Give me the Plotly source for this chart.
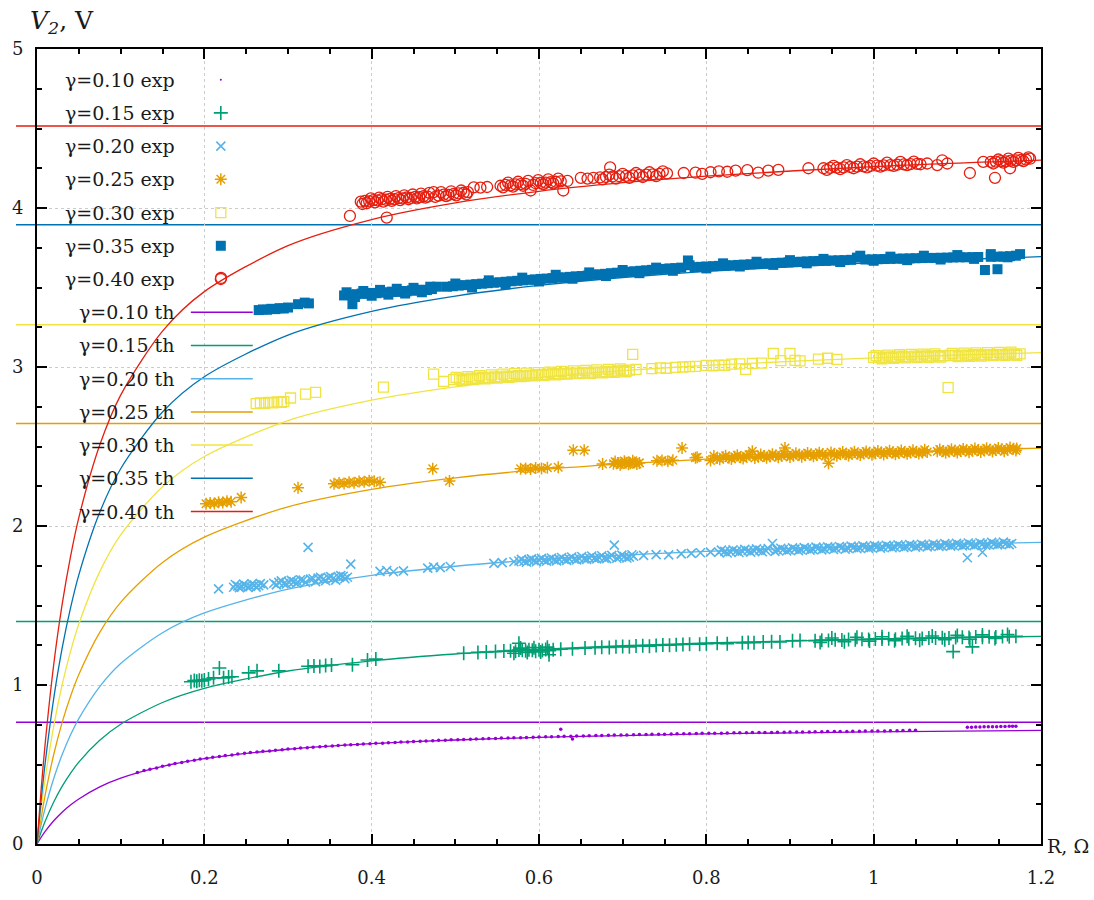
import plotly.graph_objects as go

# ---------------- data ----------------
gammas = ["0.10", "0.15", "0.20", "0.25", "0.30", "0.35", "0.40"]
colors = ["#9400d3", "#009e73", "#56b4e9", "#e69f00", "#f0e442", "#0072b2", "#e51e10"]
asymptotes = [0.765, 1.400, None, 2.644, 3.266, 3.894, 4.516]

theory_R = [0, 0.005, 0.01, 0.02, 0.03, 0.04, 0.05, 0.075, 0.1, 0.15, 0.2,
            0.3, 0.4, 0.5, 0.6, 0.7, 0.8, 1.0, 1.2]
th_010 = [0, 0.0425, 0.0805, 0.146, 0.200, 0.245, 0.283, 0.359, 0.414, 0.488, 0.537,
          0.596, 0.631, 0.654, 0.670, 0.682, 0.692, 0.705, 0.714]
th_015 = [0, 0.077, 0.146, 0.264, 0.362, 0.444, 0.515, 0.652, 0.753, 0.890, 0.979,
          1.088, 1.152, 1.195, 1.224, 1.247, 1.264, 1.289, 1.306]
th_020 = [0, 0.122, 0.230, 0.412, 0.561, 0.685, 0.789, 0.990, 1.135, 1.329, 1.453,
          1.603, 1.690, 1.747, 1.788, 1.817, 1.841, 1.874, 1.897]
th_025 = [0, 0.167, 0.315, 0.563, 0.763, 0.928, 1.066, 1.331, 1.520, 1.771, 1.930,
          2.121, 2.231, 2.303, 2.354, 2.391, 2.420, 2.462, 2.490]
th_030 = [0, 0.224, 0.419, 0.742, 1.000, 1.210, 1.384, 1.713, 1.944, 2.247, 2.437,
          2.663, 2.791, 2.875, 2.934, 2.977, 3.010, 3.058, 3.091]
th_035 = [0, 0.278, 0.519, 0.916, 1.230, 1.483, 1.693, 2.086, 2.360, 2.717, 2.939,
          3.201, 3.350, 3.446, 3.513, 3.563, 3.601, 3.656, 3.694]
th_040 = [0, 0.347, 0.645, 1.129, 1.505, 1.806, 2.053, 2.509, 2.823, 3.226, 3.474,
          3.763, 3.927, 4.032, 4.105, 4.159, 4.201, 4.260, 4.301]

# ---- gamma = 0.10 (dots)
exp_R_010 = [0.120, 0.135, 0.150, 0.165, 0.180, 0.195, 0.210, 0.225, 0.240, 0.255,
             0.270, 0.285, 0.300, 0.315, 0.330, 0.345, 0.360, 0.375, 0.390, 0.405,
             0.420, 0.435, 0.450, 0.465, 0.480, 0.495, 0.510, 0.525, 0.540, 0.555,
             0.570, 0.585, 0.600, 0.615, 0.630, 0.645, 0.660, 0.675, 0.690, 0.705,
             0.720, 0.735, 0.750, 0.765, 0.780, 0.795, 0.810, 0.825, 0.840, 0.855,
             0.870, 0.885, 0.900, 0.915, 0.930, 0.945, 0.960, 0.975, 0.990, 1.005,
             1.020, 1.035, 1.050, 1.112, 1.122, 1.132, 1.142, 1.152, 1.162, 1.170,
             0.626, 0.640]
exp_V_010 = [0.450, 0.470, 0.489, 0.506, 0.521, 0.534, 0.546, 0.556, 0.566, 0.575,
             0.583, 0.590, 0.597, 0.603, 0.609, 0.615, 0.620, 0.625, 0.629, 0.633,
             0.637, 0.641, 0.645, 0.648, 0.652, 0.655, 0.658, 0.661, 0.664, 0.666,
             0.668, 0.670, 0.673, 0.675, 0.677, 0.679, 0.681, 0.683, 0.685, 0.686,
             0.688, 0.690, 0.691, 0.693, 0.694, 0.696, 0.697, 0.698, 0.699, 0.701,
             0.702, 0.703, 0.704, 0.705, 0.706, 0.707, 0.708, 0.709, 0.710, 0.711,
             0.712, 0.714, 0.716, 0.735, 0.736, 0.737, 0.738, 0.739, 0.740, 0.741,
             0.722, 0.660]
exp_R_010b = [0.128, 0.143, 0.158, 0.173, 0.188, 0.203, 0.218, 0.233, 0.248, 0.263,
              0.278, 0.293, 0.308, 0.323, 0.338, 0.353, 0.368, 0.383, 0.398, 0.413,
              0.428, 0.443, 0.458, 0.473, 0.488, 0.503, 0.518, 0.533, 0.548, 0.563,
              0.578, 0.593, 0.608, 0.623, 0.638, 0.653, 0.668, 0.683, 0.698, 0.713,
              0.728, 0.743, 0.758, 0.773, 0.788, 0.803, 0.818, 0.833, 0.848, 0.863,
              0.878, 0.893, 0.908, 0.923, 0.938, 0.953, 0.968, 0.983, 0.998, 1.013,
              1.028, 1.043, 1.117, 1.127, 1.137, 1.147, 1.157, 1.166]
exp_V_010b = [0.462, 0.478, 0.497, 0.512, 0.526, 0.539, 0.550, 0.560, 0.570, 0.578,
              0.585, 0.593, 0.599, 0.605, 0.611, 0.617, 0.622, 0.626, 0.630, 0.634,
              0.638, 0.642, 0.646, 0.649, 0.653, 0.656, 0.659, 0.662, 0.664, 0.667,
              0.669, 0.671, 0.674, 0.676, 0.678, 0.680, 0.682, 0.684, 0.685, 0.687,
              0.689, 0.690, 0.692, 0.693, 0.695, 0.696, 0.697, 0.699, 0.700, 0.701,
              0.702, 0.703, 0.704, 0.705, 0.706, 0.707, 0.708, 0.709, 0.710, 0.711,
              0.713, 0.715, 0.735, 0.736, 0.737, 0.738, 0.739, 0.740]

# ---- gamma = 0.15 (+)
exp_R_015 = [0.184, 0.188, 0.191, 0.194, 0.197, 0.200, 0.205, 0.211, 0.218, 0.223,
             0.229, 0.233, 0.253, 0.263, 0.289, 0.324, 0.331, 0.338, 0.345, 0.352,
             0.377, 0.395, 0.405, 0.510, 0.527, 0.537, 0.548, 0.558, 0.566, 0.572,
             0.576, 0.580, 0.584, 0.588, 0.592, 0.596, 0.600, 0.604, 0.608, 0.612,
             0.617, 0.626, 0.640, 0.655, 0.667, 0.675, 0.684, 0.692, 0.700, 0.708,
             0.716, 0.724, 0.732, 0.740, 0.748, 0.756, 0.764, 0.772, 0.780, 0.792,
             0.800, 0.813, 0.825, 0.843, 0.850, 0.857, 0.868, 0.878, 0.888, 0.903,
             0.912, 0.930, 0.938, 0.946, 0.954, 0.962, 0.970, 0.978, 0.986, 0.994,
             1.002, 1.010, 1.018, 1.026, 1.034, 1.042, 1.050, 1.058, 1.066, 1.074,
             1.082, 1.090, 1.098, 1.106, 1.114, 1.122, 1.130, 1.138, 1.146, 1.154,
             1.162, 1.170, 1.095, 1.118, 0.576, 0.612]
exp_V_015 = [1.020, 1.028, 1.024, 1.030, 1.026, 1.032, 1.038, 1.045, 1.107, 1.045,
             1.050, 1.052, 1.076, 1.089, 1.089, 1.118, 1.120, 1.116, 1.122, 1.126,
             1.128, 1.157, 1.163, 1.200, 1.205, 1.208, 1.210, 1.214, 1.216, 1.212,
             1.220, 1.218, 1.215, 1.222, 1.219, 1.213, 1.221, 1.217, 1.224, 1.216,
             1.222, 1.225, 1.228, 1.232, 1.234, 1.237, 1.236, 1.240, 1.242, 1.240,
             1.245, 1.247, 1.244, 1.249, 1.251, 1.250, 1.253, 1.255, 1.257, 1.256,
             1.260, 1.262, 1.260, 1.265, 1.268, 1.266, 1.270, 1.272, 1.270, 1.278,
             1.280, 1.279, 1.282, 1.280, 1.284, 1.283, 1.286, 1.285, 1.288, 1.286,
             1.290, 1.289, 1.291, 1.288, 1.293, 1.291, 1.294, 1.293, 1.296, 1.295,
             1.297, 1.296, 1.298, 1.300, 1.299, 1.302, 1.300, 1.303, 1.302, 1.305,
             1.304, 1.306, 1.210, 1.240, 1.263, 1.190]
exp_R_015b = [0.570, 0.578, 0.586, 0.594, 0.602, 0.610, 0.936, 0.950, 0.965, 0.980,
              0.995, 1.010, 1.025, 1.040, 1.055, 1.070, 1.085, 1.100, 1.115, 1.130,
              1.145, 1.160]
exp_V_015b = [1.200, 1.232, 1.205, 1.235, 1.208, 1.238, 1.268, 1.296, 1.272, 1.300,
              1.276, 1.303, 1.279, 1.306, 1.282, 1.308, 1.285, 1.312, 1.288, 1.315,
              1.292, 1.318]

# ---- gamma = 0.20 (x)
exp_R_020 = [0.217, 0.235, 0.240, 0.245, 0.250, 0.255, 0.260, 0.265, 0.271, 0.283,
             0.289, 0.295, 0.301, 0.307, 0.312, 0.318, 0.324, 0.330, 0.336, 0.342,
             0.348, 0.354, 0.360, 0.366, 0.371, 0.375, 0.410, 0.418, 0.426, 0.438,
             0.467, 0.474, 0.482, 0.494, 0.546, 0.556, 0.570, 0.576, 0.582, 0.588,
             0.594, 0.600, 0.606, 0.612, 0.618, 0.624, 0.630, 0.636, 0.642, 0.648,
             0.654, 0.660, 0.666, 0.672, 0.678, 0.684, 0.690, 0.696, 0.702, 0.708,
             0.713, 0.725, 0.740, 0.755, 0.770, 0.782, 0.793, 0.805, 0.815, 0.822,
             0.829, 0.836, 0.843, 0.850, 0.857, 0.864, 0.871, 0.879, 0.885, 0.892,
             0.899, 0.906, 0.913, 0.920, 0.927, 0.934, 0.941, 0.948, 0.955, 0.962,
             0.969, 0.976, 0.983, 0.990, 0.997, 1.004, 1.011, 1.018, 1.025, 1.032,
             1.039, 1.046, 1.053, 1.060, 1.067, 1.074, 1.081, 1.088, 1.095, 1.102,
             1.109, 1.116, 1.123, 1.130, 1.137, 1.144, 1.151, 1.158, 1.165, 1.112,
             1.130]
exp_V_020 = [1.605, 1.615, 1.622, 1.618, 1.625, 1.620, 1.628, 1.624, 1.630, 1.640,
             1.645, 1.638, 1.648, 1.650, 1.646, 1.660, 1.866, 1.668, 1.672, 1.665,
             1.676, 1.670, 1.680, 1.684, 1.678, 1.760, 1.715, 1.720, 1.712, 1.718,
             1.735, 1.742, 1.738, 1.745, 1.765, 1.770, 1.775, 1.780, 1.778, 1.785,
             1.782, 1.788, 1.784, 1.790, 1.787, 1.792, 1.789, 1.795, 1.791, 1.797,
             1.793, 1.800, 1.796, 1.802, 1.798, 1.805, 1.880, 1.803, 1.808, 1.804,
             1.810, 1.815, 1.820, 1.818, 1.825, 1.828, 1.832, 1.836, 1.835, 1.840,
             1.838, 1.843, 1.841, 1.846, 1.844, 1.848, 1.846, 1.890, 1.850, 1.852,
             1.850, 1.855, 1.853, 1.857, 1.855, 1.860, 1.858, 1.862, 1.860, 1.864,
             1.862, 1.866, 1.864, 1.868, 1.866, 1.870, 1.868, 1.872, 1.870, 1.874,
             1.872, 1.876, 1.874, 1.878, 1.876, 1.880, 1.877, 1.881, 1.879, 1.883,
             1.880, 1.884, 1.882, 1.886, 1.884, 1.888, 1.886, 1.889, 1.890, 1.800,
             1.835]
exp_R_020b = [0.237, 0.242, 0.247, 0.252, 0.257, 0.262, 0.267, 0.286, 0.292, 0.298,
              0.304, 0.310, 0.315, 0.321, 0.327, 0.333, 0.339, 0.345, 0.351, 0.357,
              0.363, 0.368,
              0.579, 0.585, 0.591, 0.597, 0.603, 0.609, 0.615, 0.621, 0.627, 0.633,
              0.639, 0.645, 0.651, 0.657, 0.663, 0.669, 0.675, 0.681, 0.687, 0.693,
              0.699, 0.705, 0.711,
              0.818, 0.825, 0.832, 0.839, 0.846, 0.853, 0.860, 0.867, 0.874, 0.882,
              0.889, 0.896, 0.903, 0.910, 0.917, 0.924, 0.931, 0.938, 0.945, 0.952,
              0.959, 0.966, 0.973, 0.980, 0.987, 0.994, 1.001, 1.008, 1.015, 1.022,
              1.029, 1.036, 1.043, 1.050, 1.057, 1.064, 1.071, 1.078, 1.085, 1.092,
              1.099, 1.106, 1.113, 1.120, 1.127, 1.134, 1.141, 1.148, 1.155, 1.162]
exp_V_020b = [1.632, 1.612, 1.634, 1.614, 1.636, 1.616, 1.638, 1.630, 1.655, 1.634,
              1.658, 1.640, 1.662, 1.645, 1.666, 1.650, 1.678, 1.656, 1.682, 1.660,
              1.688, 1.668,
              1.790, 1.772, 1.793, 1.775, 1.796, 1.778, 1.799, 1.781, 1.802, 1.784,
              1.805, 1.787, 1.808, 1.790, 1.811, 1.793, 1.813, 1.795, 1.815, 1.797,
              1.817, 1.799, 1.819,
              1.848, 1.830, 1.850, 1.833, 1.853, 1.836, 1.856, 1.838, 1.858, 1.840,
              1.860, 1.843, 1.862, 1.845, 1.864, 1.848, 1.867, 1.850, 1.869, 1.852,
              1.871, 1.854, 1.873, 1.857, 1.875, 1.859, 1.877, 1.861, 1.879, 1.863,
              1.881, 1.865, 1.883, 1.867, 1.885, 1.869, 1.887, 1.871, 1.889, 1.873,
              1.891, 1.875, 1.893, 1.877, 1.895, 1.879, 1.897, 1.881, 1.899, 1.883]

# ---- gamma = 0.25 (asterisk)
exp_R_025 = [0.202, 0.207, 0.212, 0.217, 0.222, 0.227, 0.232, 0.244, 0.312, 0.355,
             0.361, 0.367, 0.373, 0.379, 0.385, 0.391, 0.397, 0.403, 0.410, 0.473,
             0.493, 0.578, 0.584, 0.590, 0.596, 0.603, 0.610, 0.623, 0.641, 0.654,
             0.676, 0.689, 0.694, 0.699, 0.704, 0.709, 0.714, 0.720, 0.741, 0.747,
             0.754, 0.760, 0.771, 0.787, 0.789, 0.805, 0.813, 0.820, 0.827, 0.834,
             0.841, 0.848, 0.855, 0.862, 0.869, 0.876, 0.883, 0.890, 0.894, 0.897,
             0.904, 0.911, 0.918, 0.925, 0.932, 0.939, 0.946, 0.953, 0.960, 0.967,
             0.974, 0.981, 0.988, 0.995, 1.002, 1.009, 1.016, 1.023, 1.030, 1.037,
             1.044, 1.051, 1.058, 1.064, 1.076, 1.083, 1.090, 1.097, 1.104, 1.111,
             1.118, 1.125, 1.132, 1.139, 1.146, 1.153, 1.160, 1.167, 1.171]
exp_V_025 = [2.140, 2.145, 2.142, 2.150, 2.148, 2.155, 2.152, 2.180, 2.240, 2.265,
             2.270, 2.268, 2.275, 2.272, 2.280, 2.278, 2.285, 2.282, 2.275, 2.360,
             2.283, 2.360, 2.362, 2.358, 2.365, 2.362, 2.366, 2.370, 2.476, 2.476,
             2.390, 2.392, 2.396, 2.394, 2.398, 2.395, 2.399, 2.397, 2.410, 2.412,
             2.408, 2.414, 2.490, 2.430, 2.432, 2.412, 2.428, 2.432, 2.430, 2.435,
             2.433, 2.438, 2.470, 2.436, 2.441, 2.439, 2.444, 2.442, 2.490, 2.446,
             2.444, 2.448, 2.446, 2.450, 2.448, 2.452, 2.395, 2.450, 2.454, 2.452,
             2.456, 2.454, 2.458, 2.460, 2.458, 2.462, 2.460, 2.463, 2.461, 2.464,
             2.462, 2.465, 2.463, 2.466, 2.470, 2.472, 2.470, 2.474, 2.472, 2.476,
             2.474, 2.478, 2.476, 2.480, 2.478, 2.482, 2.480, 2.486, 2.488]
exp_R_025b = [0.691, 0.697, 0.702, 0.707, 0.712, 0.717, 0.809, 0.816, 0.823, 0.830,
              0.837, 0.844, 0.851, 0.858, 0.865, 0.872, 0.879, 0.886, 0.893, 0.900,
              0.907, 0.914, 0.921, 0.928, 0.935, 0.942, 0.949, 0.956, 0.963, 0.970,
              0.977, 0.984, 0.991, 0.998, 1.005, 1.012, 1.019, 1.026, 1.033, 1.040,
              1.047, 1.054, 1.061, 1.079, 1.086, 1.093, 1.100, 1.107, 1.114, 1.121,
              1.128, 1.135, 1.142, 1.149, 1.156, 1.163, 1.170]
exp_V_025b = [2.405, 2.385, 2.408, 2.388, 2.410, 2.390, 2.440, 2.420, 2.442, 2.422,
              2.445, 2.425, 2.448, 2.428, 2.450, 2.430, 2.452, 2.432, 2.455, 2.434,
              2.457, 2.436, 2.459, 2.438, 2.461, 2.440, 2.463, 2.442, 2.465, 2.444,
              2.467, 2.446, 2.469, 2.448, 2.471, 2.450, 2.473, 2.452, 2.475, 2.454,
              2.477, 2.456, 2.479, 2.481, 2.460, 2.483, 2.462, 2.485, 2.464, 2.487,
              2.466, 2.489, 2.468, 2.491, 2.470, 2.493, 2.475]

# ---- gamma = 0.30 (open square)
exp_R_030 = [0.262, 0.267, 0.272, 0.277, 0.282, 0.287, 0.292, 0.295, 0.303, 0.321,
             0.333, 0.414, 0.474, 0.486, 0.498, 0.505, 0.512, 0.519, 0.526, 0.533,
             0.540, 0.547, 0.554, 0.561, 0.568, 0.575, 0.582, 0.589, 0.596, 0.603,
             0.610, 0.617, 0.624, 0.631, 0.638, 0.645, 0.652, 0.659, 0.666, 0.673,
             0.680, 0.687, 0.694, 0.701, 0.708, 0.712, 0.716, 0.735, 0.745, 0.752,
             0.763, 0.772, 0.780, 0.787, 0.800, 0.808, 0.815, 0.822, 0.830, 0.840,
             0.847, 0.855, 0.866, 0.880, 0.889, 0.900, 0.906, 0.912, 0.934, 0.945,
             0.956, 1.000, 1.007, 1.014, 1.021, 1.028, 1.035, 1.042, 1.049, 1.056,
             1.063, 1.070, 1.077, 1.084, 1.089, 1.091, 1.098, 1.105, 1.112, 1.119,
             1.126, 1.133, 1.140, 1.147, 1.154, 1.161, 1.168, 1.175]
exp_V_030 = [2.770, 2.775, 2.772, 2.778, 2.775, 2.780, 2.777, 2.782, 2.805, 2.830,
             2.840, 2.874, 2.955, 2.910, 2.920, 2.925, 2.922, 2.930, 2.928, 2.935,
             2.932, 2.938, 2.936, 2.942, 2.940, 2.945, 2.943, 2.948, 2.950, 2.952,
             2.955, 2.958, 2.956, 2.960, 2.962, 2.960, 2.965, 2.963, 2.968, 2.966,
             2.970, 2.972, 2.975, 2.978, 2.980, 3.080, 2.985, 2.990, 2.995, 2.992,
             2.998, 3.000, 3.002, 3.004, 3.010, 3.008, 3.012, 3.010, 3.018, 3.020,
             2.985, 3.022, 3.025, 3.085, 3.040, 3.085, 3.042, 3.038, 3.050, 3.055,
             3.048, 3.060, 3.062, 3.060, 3.064, 3.062, 3.066, 3.064, 3.068, 3.066,
             3.070, 3.068, 3.072, 3.070, 2.870, 3.073, 3.071, 3.075, 3.073, 3.077,
             3.075, 3.078, 3.076, 3.080, 3.078, 3.082, 3.080, 3.083]
exp_R_030b = [0.501, 0.508, 0.515, 0.522, 0.529, 0.536, 0.543, 0.550, 0.557, 0.564,
              0.571, 0.578, 0.585, 0.592, 0.599, 0.606, 0.613, 0.620, 0.627, 0.634,
              0.641, 0.648, 0.655, 0.662, 0.669, 0.676, 0.683, 0.690, 0.697, 0.704,
              1.003, 1.010, 1.017, 1.024, 1.031, 1.038, 1.045, 1.052, 1.059, 1.066,
              1.073, 1.080, 1.094, 1.101, 1.108, 1.115, 1.122, 1.129, 1.136, 1.143,
              1.150, 1.157, 1.164, 1.171]
exp_V_030b = [2.935, 2.915, 2.940, 2.920, 2.945, 2.925, 2.950, 2.930, 2.955, 2.935,
              2.960, 2.940, 2.962, 2.945, 2.965, 2.948, 2.968, 2.950, 2.972, 2.955,
              2.975, 2.958, 2.978, 2.960, 2.982, 2.963, 2.985, 2.966, 2.988, 2.970,
              3.072, 3.052, 3.075, 3.055, 3.077, 3.057, 3.079, 3.059, 3.081, 3.061,
              3.083, 3.063, 3.085, 3.065, 3.087, 3.067, 3.089, 3.069, 3.090, 3.071,
              3.092, 3.072, 3.094, 3.074]

# ---- gamma = 0.35 (filled square)
exp_R_035 = [0.265, 0.270, 0.275, 0.280, 0.285, 0.290, 0.295, 0.300, 0.312, 0.320,
             0.325, 0.367, 0.372, 0.377, 0.382, 0.388, 0.394, 0.400, 0.406, 0.412,
             0.418, 0.424, 0.430, 0.436, 0.442, 0.448, 0.454, 0.460, 0.466, 0.472,
             0.478, 0.490, 0.497, 0.504, 0.511, 0.518, 0.525, 0.532, 0.539, 0.546,
             0.553, 0.560, 0.567, 0.574, 0.581, 0.588, 0.595, 0.602, 0.609, 0.616,
             0.623, 0.630, 0.637, 0.644, 0.651, 0.658, 0.665, 0.672, 0.679, 0.686,
             0.693, 0.700, 0.707, 0.714, 0.721, 0.728, 0.735, 0.742, 0.749, 0.756,
             0.763, 0.770, 0.778, 0.786, 0.793, 0.800, 0.808, 0.815, 0.823, 0.830,
             0.838, 0.845, 0.853, 0.860, 0.868, 0.875, 0.883, 0.890, 0.898, 0.905,
             0.913, 0.920, 0.928, 0.935, 0.943, 0.950, 0.958, 0.965, 0.973, 0.984,
             0.990, 0.998, 1.005, 1.013, 1.020, 1.028, 1.035, 1.043, 1.050, 1.058,
             1.065, 1.073, 1.080, 1.088, 1.095, 1.103, 1.110, 1.118, 1.125, 1.133,
             1.140, 1.148, 1.148, 1.155, 1.163, 1.170, 1.175]
exp_V_035 = [3.358, 3.362, 3.360, 3.366, 3.364, 3.370, 3.368, 3.374, 3.395, 3.405,
             3.400, 3.450, 3.455, 3.395, 3.458, 3.462, 3.460, 3.466, 3.464, 3.470,
             3.468, 3.474, 3.472, 3.478, 3.476, 3.482, 3.480, 3.486, 3.484, 3.490,
             3.505, 3.505, 3.508, 3.512, 3.515, 3.518, 3.521, 3.524, 3.527, 3.530,
             3.533, 3.536, 3.539, 3.542, 3.545, 3.548, 3.551, 3.554, 3.556, 3.559,
             3.562, 3.564, 3.567, 3.570, 3.572, 3.575, 3.580, 3.583, 3.586, 3.590,
             3.593, 3.596, 3.599, 3.602, 3.605, 3.608, 3.611, 3.614, 3.617, 3.620,
             3.622, 3.625, 3.670, 3.628, 3.630, 3.632, 3.634, 3.636, 3.638, 3.640,
             3.642, 3.644, 3.646, 3.648, 3.650, 3.652, 3.654, 3.656, 3.658, 3.660,
             3.662, 3.664, 3.666, 3.667, 3.668, 3.670, 3.671, 3.672, 3.674, 3.700,
             3.676, 3.677, 3.678, 3.679, 3.680, 3.681, 3.682, 3.683, 3.684, 3.685,
             3.686, 3.686, 3.687, 3.688, 3.689, 3.690, 3.690, 3.691, 3.692, 3.610,
             3.693, 3.615, 3.694, 3.695, 3.697, 3.700, 3.710]
exp_R_035b = [0.370, 0.380, 0.390, 0.400, 0.410, 0.420, 0.430, 0.440, 0.450, 0.460,
              0.470, 0.500, 0.520, 0.540, 0.560, 0.580, 0.600, 0.620, 0.640, 0.660,
              0.680, 0.700, 0.720, 0.740, 0.760, 0.780, 0.800, 0.820, 0.840, 0.860,
              0.880, 0.900, 0.920, 0.940, 0.960, 0.980, 1.000, 1.020, 1.040, 1.060,
              1.080, 1.100, 1.120, 1.140, 1.160]
exp_V_035b = [3.470, 3.440, 3.478, 3.448, 3.485, 3.455, 3.492, 3.462, 3.498, 3.470,
              3.505, 3.525, 3.500, 3.545, 3.520, 3.562, 3.538, 3.580, 3.555, 3.595,
              3.572, 3.610, 3.590, 3.625, 3.605, 3.640, 3.620, 3.652, 3.632, 3.662,
              3.642, 3.672, 3.652, 3.680, 3.660, 3.688, 3.668, 3.694, 3.672, 3.700,
              3.676, 3.704, 3.680, 3.710, 3.690]

# ---- gamma = 0.40 (open circle)
exp_R_040 = [0.220, 0.374, 0.418, 0.387, 0.392, 0.397, 0.402, 0.407, 0.412, 0.417,
             0.422, 0.427, 0.432, 0.437, 0.442, 0.447, 0.452, 0.457, 0.462, 0.467,
             0.474, 0.480, 0.486, 0.492, 0.498, 0.504, 0.510, 0.515, 0.522, 0.530,
             0.538, 0.554, 0.560, 0.566, 0.572, 0.578, 0.584, 0.590, 0.596, 0.602,
             0.608, 0.614, 0.620, 0.626, 0.629, 0.634, 0.650, 0.658, 0.665, 0.673,
             0.680, 0.685, 0.688, 0.696, 0.704, 0.712, 0.720, 0.728, 0.736, 0.744,
             0.753, 0.773, 0.787, 0.795, 0.805, 0.815, 0.825, 0.835, 0.849, 0.862,
             0.874, 0.886, 0.922, 0.940, 0.948, 0.956, 0.964, 0.972, 0.980, 0.988,
             0.996, 1.004, 1.012, 1.020, 1.028, 1.036, 1.044, 1.052, 1.064, 1.076,
             1.082, 1.088, 1.115, 1.131, 1.145, 1.163, 1.140, 1.146, 1.152, 1.158,
             1.164, 1.170, 1.176, 1.182, 1.187]
exp_V_040 = [3.560, 3.950, 3.940, 4.040, 4.045, 4.042, 4.050, 4.048, 4.055, 4.052,
             4.058, 4.056, 4.062, 4.060, 4.066, 4.064, 4.070, 4.068, 4.074, 4.072,
             4.100, 4.078, 4.084, 4.082, 4.088, 4.092, 4.096, 4.100, 4.130, 4.128,
             4.132, 4.140, 4.145, 4.142, 4.148, 4.150, 4.152, 4.110, 4.156, 4.158,
             4.160, 4.162, 4.165, 4.168, 4.110, 4.170, 4.190, 4.185, 4.190, 4.192,
             4.195, 4.255, 4.198, 4.200, 4.202, 4.205, 4.208, 4.210, 4.212, 4.215,
             4.218, 4.220, 4.222, 4.215, 4.225, 4.230, 4.228, 4.235, 4.238, 4.222,
             4.235, 4.240, 4.250, 4.250, 4.252, 4.254, 4.256, 4.258, 4.260, 4.262,
             4.264, 4.266, 4.268, 4.270, 4.272, 4.274, 4.276, 4.278, 4.280, 4.270,
             4.300, 4.280, 4.220, 4.290, 4.190, 4.250, 4.290, 4.292, 4.295, 4.293,
             4.298, 4.300, 4.302, 4.305, 4.310]
exp_R_040b = [0.389, 0.394, 0.399, 0.404, 0.409, 0.414, 0.419, 0.424, 0.429, 0.434,
              0.439, 0.444, 0.449, 0.454, 0.459, 0.464, 0.469, 0.476, 0.483, 0.489,
              0.495, 0.501, 0.507, 0.513,
              0.557, 0.563, 0.569, 0.575, 0.581, 0.587, 0.593, 0.599, 0.605, 0.611,
              0.617, 0.623,
              0.676, 0.684, 0.692, 0.700, 0.708, 0.716, 0.724, 0.732, 0.740, 0.748,
              0.944, 0.952, 0.960, 0.968, 0.976, 0.984, 0.992, 1.000, 1.008, 1.016,
              1.024, 1.032, 1.040, 1.048, 1.056,
              1.143, 1.149, 1.155, 1.161, 1.167, 1.173, 1.179, 1.185]
exp_V_040b = [4.025, 4.030, 4.060, 4.035, 4.065, 4.040, 4.070, 4.045, 4.075, 4.050,
              4.080, 4.055, 4.085, 4.060, 4.090, 4.065, 4.095, 4.070, 4.100, 4.075,
              4.105, 4.080, 4.110, 4.085,
              4.130, 4.160, 4.135, 4.165, 4.140, 4.170, 4.145, 4.175, 4.150, 4.180,
              4.155, 4.185,
              4.180, 4.210, 4.185, 4.215, 4.190, 4.220, 4.195, 4.225, 4.200, 4.230,
              4.240, 4.265, 4.245, 4.270, 4.250, 4.275, 4.255, 4.280, 4.260, 4.285,
              4.265, 4.290, 4.270, 4.292, 4.275,
              4.280, 4.305, 4.285, 4.310, 4.290, 4.315, 4.295, 4.318]

exp_R = [exp_R_010 + exp_R_010b, exp_R_015 + exp_R_015b, exp_R_020 + exp_R_020b,
         exp_R_025 + exp_R_025b, exp_R_030 + exp_R_030b, exp_R_035 + exp_R_035b,
         exp_R_040 + exp_R_040b]
exp_V = [exp_V_010 + exp_V_010b, exp_V_015 + exp_V_015b, exp_V_020 + exp_V_020b,
         exp_V_025 + exp_V_025b, exp_V_030 + exp_V_030b, exp_V_035 + exp_V_035b,
         exp_V_040 + exp_V_040b]
theory_V = [th_010, th_015, th_020, th_025, th_030, th_035, th_040]

# ---------------- styles ----------------
FONT = "DejaVu Serif"
marker_styles = [
    dict(symbol="circle", size=3.5, line=dict(width=0)),
    dict(symbol="cross-thin-open", size=10, line=dict(width=1.6)),
    dict(symbol="x-thin-open", size=9, line=dict(width=1.6)),
    dict(symbol="asterisk-open", size=10, line=dict(width=1.5)),
    dict(symbol="square-open", size=10, line=dict(width=1.3)),
    dict(symbol="square", size=10, line=dict(width=0)),
    dict(symbol="circle-open", size=11, line=dict(width=1.3)),
]

fig = go.Figure()

# experimental points
for g, c, ms, rx, vy in zip(gammas, colors, marker_styles, exp_R, exp_V):
    m = dict(ms)
    m["color"] = c
    m["line"] = dict(ms["line"], color=c)
    fig.add_trace(go.Scatter(x=rx, y=vy, mode="markers", marker=m,
                             name=f"γ={g} exp", showlegend=False))

# theoretical curves
for g, c, tv in zip(gammas, colors, theory_V):
    fig.add_trace(go.Scatter(x=theory_R, y=tv, mode="lines",
                             line=dict(color=c, width=1.3, shape="spline", smoothing=0.8),
                             name=f"γ={g} th", showlegend=False))

# ---------------- manual gnuplot-style key ----------------
W, H = 1094, 900
L, R_, T, B = 36, 53, 49, 47
pw, ph = W - L - R_, H - T - B


def px_to_paper_x(px):
    return (px - L) / pw


def py_to_paper_y(py):
    return (H - B - py) / ph


row0, row_step = 80, 33.6
text_right = px_to_paper_x(176)
sample_x = px_to_paper_x(220)
line_x0, line_x1 = px_to_paper_x(190), px_to_paper_x(252)

annotations = []
shapes = []

# white key box (hides the grid behind the key)
shapes.append(dict(type="rect", xref="paper", yref="paper",
                   x0=0, x1=px_to_paper_x(262), y0=py_to_paper_y(537), y1=1,
                   fillcolor="white", line=dict(width=0), layer="between"))

labels = [f"γ={g} exp" for g in gammas] + [f"γ={g} th" for g in gammas]
for i, lab in enumerate(labels):
    yp = py_to_paper_y(row0 + i * row_step)
    annotations.append(dict(text=lab, x=text_right, y=yp, xref="paper", yref="paper",
                            xanchor="right", yanchor="middle", showarrow=False,
                            font=dict(family=FONT, size=19, color="#1a1a1a")))
    if i >= len(gammas):
        c = colors[i - len(gammas)]
        shapes.append(dict(type="line", xref="paper", yref="paper",
                           x0=line_x0, x1=line_x1, y0=yp, y1=yp,
                           line=dict(color=c, width=1.5), layer="above"))

# key marker samples on an overlay axis (0..1 range)
for i, (c, ms) in enumerate(zip(colors, marker_styles)):
    yp = py_to_paper_y(row0 + i * row_step)
    m = dict(ms)
    m["color"] = c
    m["line"] = dict(ms["line"], color=c)
    if i == 0:
        m["size"] = 2
    fig.add_trace(go.Scatter(x=[sample_x], y=[yp], mode="markers", marker=m,
                             xaxis="x2", yaxis="y2", showlegend=False, hoverinfo="skip"))

# horizontal asymptotes
for c, a in zip(colors, asymptotes):
    if a is None:
        continue
    shapes.append(dict(type="line", xref="paper", yref="y",
                       x0=px_to_paper_x(15), x1=1.0, y0=a, y1=a,
                       line=dict(color=c, width=1.5), layer="between"))

# axis titles
annotations.append(dict(text="<i>V</i><sub><i>2</i></sub>, V", x=px_to_paper_x(27),
                        y=py_to_paper_y(22), xref="paper", yref="paper",
                        xanchor="left", yanchor="middle", showarrow=False,
                        font=dict(family=FONT, size=25, color="#1a1a1a")))
annotations.append(dict(text="R, Ω", x=px_to_paper_x(1045), y=py_to_paper_y(855),
                        xref="paper", yref="paper", xanchor="left", yanchor="middle",
                        showarrow=False, font=dict(family=FONT, size=19, color="#1a1a1a")))

axis_common = dict(
    showline=True, linecolor="black", linewidth=2, mirror="ticks",
    ticks="inside", ticklen=10, tickwidth=1.5, tickcolor="black",
    showgrid=True, gridcolor="#cccccc", gridwidth=1, griddash="dot",
    zeroline=False, tickfont=dict(family=FONT, size=18, color="#1a1a1a"),
)

fig.update_layout(
    width=W, height=H,
    margin=dict(l=L, r=R_, t=T, b=B),
    paper_bgcolor="white", plot_bgcolor="white",
    showlegend=False,
    xaxis=dict(range=[0, 1.2], tick0=0, dtick=0.2, ticklabelstandoff=16,
               minor=dict(dtick=0.05, tick0=0, ticks="inside", ticklen=5,
                          tickcolor="black", tickwidth=1.5, showgrid=False),
               **axis_common),
    yaxis=dict(range=[0, 5], tick0=0, dtick=1, ticklabelstandoff=8,
               minor=dict(dtick=0.25, tick0=0, ticks="inside", ticklen=5,
                          tickcolor="black", tickwidth=1.5, showgrid=False),
               **axis_common),
    xaxis2=dict(range=[0, 1], overlaying="x", visible=False, anchor="y2"),
    yaxis2=dict(range=[0, 1], overlaying="y", visible=False, anchor="x2"),
    annotations=annotations,
    shapes=shapes,
)

fig.write_html("out.html")
